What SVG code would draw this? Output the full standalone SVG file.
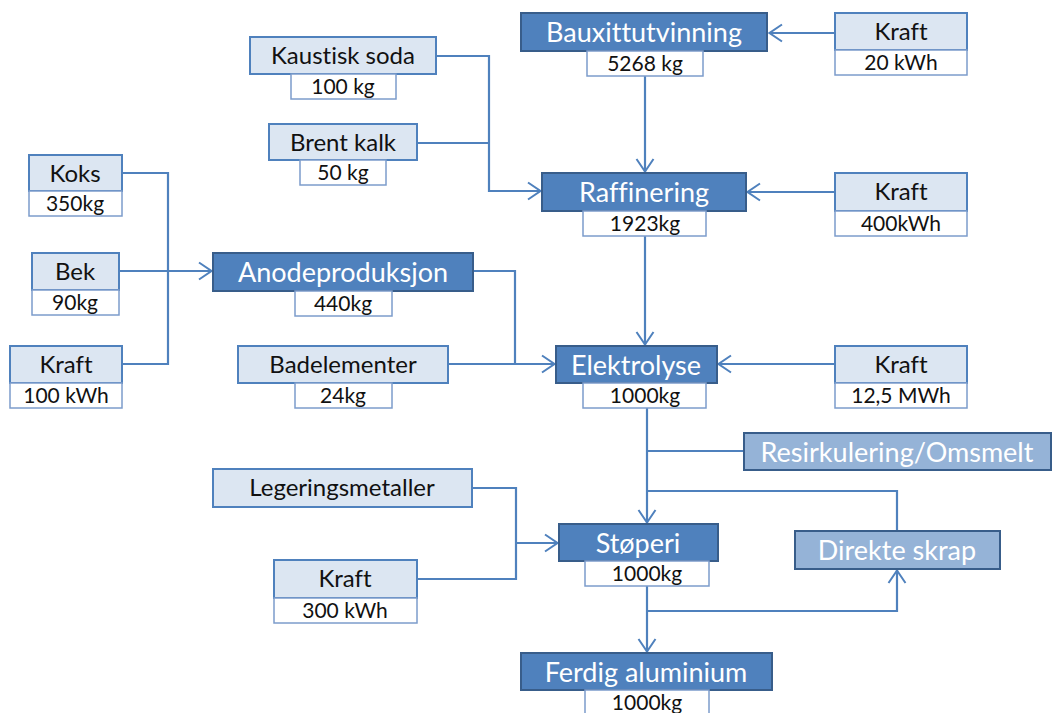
<svg xmlns="http://www.w3.org/2000/svg" width="1053" height="713" viewBox="0 0 1053 713">
<defs>
<marker id="arr" viewBox="0 0 15 20" refX="14" refY="10" markerWidth="15" markerHeight="20" markerUnits="userSpaceOnUse" orient="auto">
<path d="M1,1.5 L13.5,10 L1,18.5" fill="none" stroke="#4F81BD" stroke-width="2"/>
</marker>
<style>
.dark rect.m{fill:#4F81BD;stroke:#385D8A;stroke-width:2}
.light rect.m{fill:#DCE6F2;stroke:#4F81BD;stroke-width:2}
.mid rect.m{fill:#95B3D7;stroke:#385D8A;stroke-width:2}
rect.s{fill:#FFFFFF;stroke:#7C9CCB;stroke-width:1.5}
text{font-family:Lato,"Open Sans","Liberation Sans",sans-serif;text-anchor:middle;font-variant-ligatures:none}
.dark text.m,.mid text.m{fill:#FFFFFF;font-size:27px}
.light text.m{fill:#111111;font-size:24px}
text.s{fill:#111111;font-size:21px}
.conn path{fill:none;stroke:#4F81BD;stroke-width:2.2}
</style>
</defs>
<rect width="1053" height="713" fill="#FFFFFF"/>
<g class="conn">
<path d="M835,33 H769" marker-end="url(#arr)"/>
<path d="M645,76 V172" marker-end="url(#arr)"/>
<path d="M436,56 H489 V191 H541" marker-end="url(#arr)"/>
<path d="M417,143 H489"/>
<path d="M835,192 H747" marker-end="url(#arr)"/>
<path d="M645,236 V345" marker-end="url(#arr)"/>
<path d="M122,173 H168 V364 H122"/>
<path d="M119,271 H212" marker-end="url(#arr)"/>
<path d="M473,271 H515 V364 H555" marker-end="url(#arr)"/>
<path d="M448,364 H515"/>
<path d="M835,364 H718" marker-end="url(#arr)"/>
<path d="M647,408 V523" marker-end="url(#arr)"/>
<path d="M744,451 H647"/>
<path d="M897,531 V491 H647"/>
<path d="M472,488 H516 V579 H417"/>
<path d="M516,543 H558" marker-end="url(#arr)"/>
<path d="M647,586 V652" marker-end="url(#arr)"/>
<path d="M647,611 H897 V570" marker-end="url(#arr)"/>
</g>
<g id="bauxitt" class="dark"><rect class="m" x="521" y="13" width="246" height="38"/><text class="m" x="644" y="42">Bauxittutvinning</text><rect class="s" x="587" y="51" width="116" height="25"/><text class="s" x="645" y="71">5268 kg</text></g>
<g id="raffinering" class="dark"><rect class="m" x="542" y="173" width="204" height="38"/><text class="m" x="644" y="202">Raffinering</text><rect class="s" x="583" y="211" width="123" height="25"/><text class="s" x="645" y="231">1923kg</text></g>
<g id="anode" class="dark"><rect class="m" x="213" y="253" width="260" height="38"/><text class="m" x="343" y="282">Anodeproduksjon</text><rect class="s" x="295" y="291" width="97" height="25"/><text class="s" x="343" y="311">440kg</text></g>
<g id="elektrolyse" class="dark"><rect class="m" x="556" y="346" width="161" height="37"/><text class="m" x="636" y="375">Elektrolyse</text><rect class="s" x="583" y="383" width="123" height="25"/><text class="s" x="645" y="403">1000kg</text></g>
<g id="stoperi" class="dark"><rect class="m" x="559" y="524" width="159" height="37"/><text class="m" x="638" y="553">Støperi</text><rect class="s" x="585" y="561" width="124" height="25"/><text class="s" x="647" y="581">1000kg</text></g>
<g id="ferdig" class="dark"><rect class="m" x="521" y="653" width="251" height="37"/><text class="m" x="646" y="682">Ferdig aluminium</text><rect class="s" x="585" y="690" width="124" height="25"/><text class="s" x="647" y="710">1000kg</text></g>
<g id="kraft1" class="light"><rect class="m" x="835" y="13" width="132" height="37"/><text class="m" x="901" y="40">Kraft</text><rect class="s" x="835" y="50" width="132" height="25"/><text class="s" x="901" y="70">20 kWh</text></g>
<g id="kaustisk" class="light"><rect class="m" x="250" y="37" width="186" height="37"/><text class="m" x="343" y="64">Kaustisk soda</text><rect class="s" x="291" y="74" width="105" height="25"/><text class="s" x="343" y="94">100 kg</text></g>
<g id="brentkalk" class="light"><rect class="m" x="269" y="124" width="148" height="36"/><text class="m" x="343" y="151">Brent kalk</text><rect class="s" x="300" y="160" width="86" height="25"/><text class="s" x="343" y="180">50 kg</text></g>
<g id="kraft2" class="light"><rect class="m" x="835" y="173" width="132" height="38"/><text class="m" x="901" y="200">Kraft</text><rect class="s" x="835" y="211" width="132" height="25"/><text class="s" x="901" y="231">400kWh</text></g>
<g id="koks" class="light"><rect class="m" x="29" y="155" width="93" height="36"/><text class="m" x="75" y="182">Koks</text><rect class="s" x="29" y="191" width="93" height="25"/><text class="s" x="75" y="211">350kg</text></g>
<g id="bek" class="light"><rect class="m" x="32" y="253" width="87" height="37"/><text class="m" x="75" y="280">Bek</text><rect class="s" x="32" y="290" width="87" height="25"/><text class="s" x="75" y="310">90kg</text></g>
<g id="kraft0" class="light"><rect class="m" x="10" y="346" width="112" height="37"/><text class="m" x="66" y="373">Kraft</text><rect class="s" x="10" y="383" width="112" height="25"/><text class="s" x="66" y="403">100 kWh</text></g>
<g id="badelementer" class="light"><rect class="m" x="238" y="346" width="210" height="37"/><text class="m" x="343" y="373">Badelementer</text><rect class="s" x="295" y="383" width="97" height="25"/><text class="s" x="343" y="403">24kg</text></g>
<g id="kraft3" class="light"><rect class="m" x="835" y="346" width="132" height="37"/><text class="m" x="901" y="373">Kraft</text><rect class="s" x="835" y="383" width="132" height="25"/><text class="s" x="901" y="403">12,5 MWh</text></g>
<g id="legering" class="light"><rect class="m" x="213" y="469" width="259" height="38"/><text class="m" x="342" y="496">Legeringsmetaller</text></g>
<g id="kraft4" class="light"><rect class="m" x="274" y="560" width="143" height="38"/><text class="m" x="345" y="587">Kraft</text><rect class="s" x="274" y="598" width="143" height="25"/><text class="s" x="345" y="618">300 kWh</text></g>
<g id="resirkulering" class="mid"><rect class="m" x="744" y="433" width="307" height="37"/><text class="m" x="897" y="462">Resirkulering/Omsmelt</text></g>
<g id="direkte" class="mid"><rect class="m" x="795" y="531" width="205" height="38"/><text class="m" x="897" y="560">Direkte skrap</text></g>
</svg>
